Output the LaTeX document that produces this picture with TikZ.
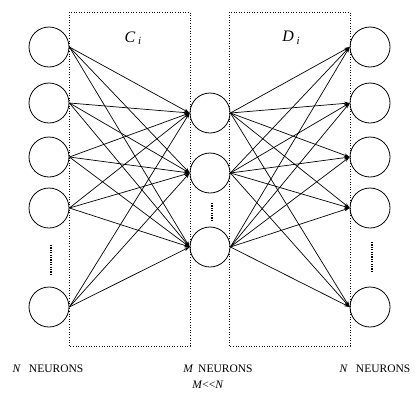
\documentclass[tikz,border=0pt]{standalone}
\usepackage{fontspec}
\setmainfont{Liberation Serif}
\usetikzlibrary{arrows.meta}
\begin{document}
\begin{tikzpicture}[x=1pt,y=-1pt,
  neuron/.style={circle,draw,line width=0.8pt,minimum size=40pt,inner sep=0pt},
  conn/.style={line width=0.7pt,-{Stealth[length=5.5pt,width=3.5pt]}},
  layerbox/.style={draw,dotted,line width=0.6pt},
  vdots/.style={draw,line width=1.3pt,dash pattern=on 1.2pt off 1.2pt},
  lbl/.style={font=\fontsize{11.5}{13}\selectfont,inner sep=0pt}]
\useasboundingbox (0,0) rectangle (420,394);
% boxes
\draw[layerbox] (69,12) rectangle (190,346);
\draw[layerbox] (229,12) rectangle (350,346);
% neurons
\foreach \i/\y in {1/47,2/103,3/157,4/208,5/307}{
  \node[neuron] (L\i) at (49,\y) {};
  \node[neuron] (R\i) at (370,\y) {};
}
\foreach \j/\y in {1/113,2/173,3/247}{
  \node[neuron] (M\j) at (210,\y) {};
}
% connections
\foreach \i in {1,...,5}{
  \foreach \j in {1,2,3}{
    \draw[conn] (L\i.east) -- (M\j.west);
    \draw[conn] (M\j.east) -- (R\i.west);
  }
}
% dots
\coordinate (dl1) at (51,245); \coordinate (dl2) at (51,275);
\coordinate (dm1) at (212,203); \coordinate (dm2) at (212,222);
\coordinate (dr1) at (372,242); \coordinate (dr2) at (372,272);
\draw[vdots] (dl1) -- (dl2);
\draw[vdots] (dm1) -- (dm2);
\draw[vdots] (dr1) -- (dr2);
% labels
\node[font=\fontsize{16}{18}\selectfont] (ci) at (133,38) {\textit{C}\,\raisebox{-0.35ex}{\fontsize{11}{13}\selectfont\textit{i}}};
\node[font=\fontsize{16}{18}\selectfont] (di) at (291,38) {\textit{D}\,\raisebox{-0.35ex}{\fontsize{11}{13}\selectfont\textit{i}}};
\node[lbl] (tl) at (48,369) {\textit{N}\hspace{0.7em}NEURONS};
\node[lbl] (tm) at (218,369) {\textit{M}\hspace{0.4em}NEURONS};
\node[lbl] (tmm) at (208,385) {\textit{M}<{}<\textit{N}};
\node[lbl] (tr) at (375,369) {\textit{N}\hspace{0.7em}NEURONS};
\end{tikzpicture}
\end{document}
